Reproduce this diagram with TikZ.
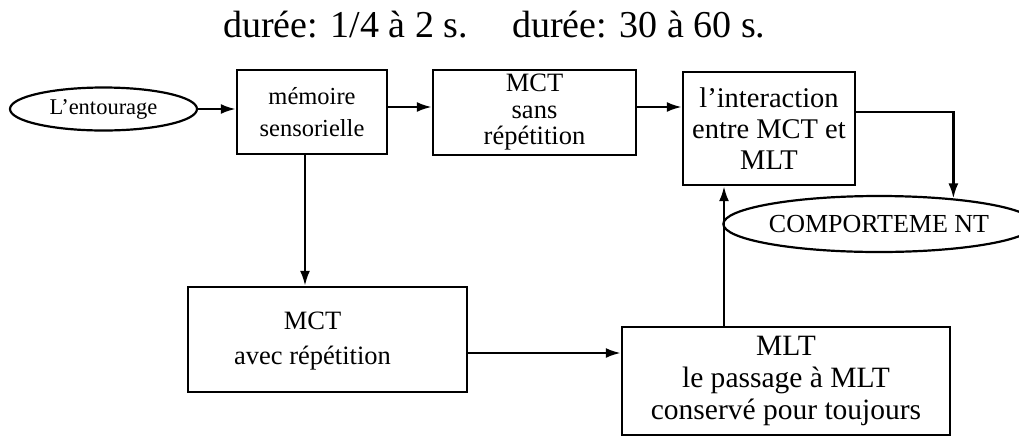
\documentclass[tikz,border=0pt]{standalone}
\usepackage{fontspec}
\setmainfont{Liberation Serif}
\usetikzlibrary{arrows.meta,shapes.geometric}
\begin{document}
\begin{tikzpicture}[x=1pt,y=-1pt,
  box/.style={draw, line width=2.4pt, inner sep=0pt, align=center},
  oval/.style={draw, ellipse, line width=2.2pt, inner sep=0pt},
  arr/.style={line width=2.4pt, -{Latex[length=15pt,width=10pt]}},
  title/.style={anchor=base west, inner sep=0pt, font=\fontsize{38}{40}\selectfont}]
\useasboundingbox[fill=white] (0,0) rectangle (1019,437);

\node[title] (t1) at (223,37) {durée: 1/4 à 2 s.};
\node[title] (t2) at (512,37) {durée: 30 à 60 s.};

\node[oval, minimum width=187pt, minimum height=43pt, font=\fontsize{22.5}{24}\selectfont] (ent) at (103.5,109) {L'entourage};
\node[box, minimum width=150pt, minimum height=84pt, font=\fontsize{24.5}{32}\selectfont] (mem) at (312,112) {mémoire\\sensorielle};
\node[box, minimum width=203pt, minimum height=85pt, font=\fontsize{26.5}{26.5}\selectfont] (sans) at (534.5,112.5) {MCT\\sans\\répétition};
\node[box, minimum width=172pt, minimum height=113pt, font=\fontsize{28.5}{31}\selectfont] (inter) at (769,128.5) {l'interaction\\entre MCT et\\MLT};
\node[oval, minimum width=272pt, minimum height=56pt, font=\fontsize{26}{28}\selectfont] (comp) at (879,224) {COMPORTEME NT};
\node[box, minimum width=279pt, minimum height=105pt, font=\fontsize{26.5}{35}\selectfont] (avec) at (327.5,339.5) {\hspace*{-30pt}\begin{tabular}{@{}c@{}}MCT\\avec répétition\end{tabular}};
\node[box, minimum width=328pt, minimum height=108pt, font=\fontsize{29.5}{32}\selectfont] (mlt) at (786,381) {MLT\\le passage à MLT\\conservé pour toujours};

\draw[arr] (ent.east) -- (ent.east -| mem.west);
\draw[arr] ([yshift=5pt]mem.east) -- ([yshift=5pt]mem.east -| sans.west);
\draw[arr] ([yshift=5.5pt]sans.east) -- ([yshift=5.5pt]sans.east -| inter.west);
\draw[arr] ([yshift=16.5pt]inter.east) -| (comp.19.3);
\draw[arr] ([xshift=-7pt]mem.south) -- ([xshift=-7pt]mem.south |- avec.north);
\draw[arr] ([yshift=-13.5pt]avec.east) -- ([yshift=-13.5pt]avec.east -| mlt.west);
\draw[arr] ([xshift=-62pt]mlt.north) -- ([xshift=-62pt]mlt.north |- inter.south);
\end{tikzpicture}
\end{document}
